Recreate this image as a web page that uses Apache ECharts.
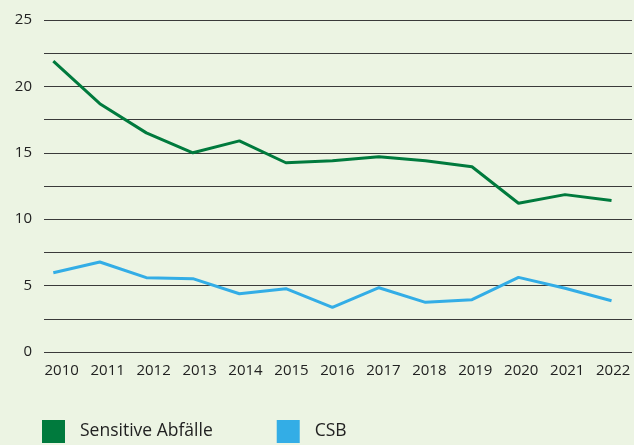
<!DOCTYPE html>
<html>
<head>
<meta charset="utf-8">
<script src="https://cdn.jsdelivr.net/npm/echarts@6/dist/echarts.min.js"></script>
<style>
html,body{margin:0;padding:0;background:#ecf4e3;}
#c{width:634px;height:445px;}
</style>
</head>
<body>
<div id="c"></div>
<script>
const years = [2010,2011,2012,2013,2014,2015,2016,2017,2018,2019,2020,2021,2022];
const sensitiveAbfaelle = [21.9,18.7,16.5,15.0,15.9,14.25,14.4,14.7,14.4,13.95,11.2,11.85,11.4];
const csb = [5.97,6.78,5.6,5.52,4.39,4.77,3.36,4.84,3.74,3.94,5.62,4.8,3.86];
const yTicks = [0,5,10,15,20,25];

const font = '"Open Sans", sans-serif';
const pair = (vals) => years.map((y,i) => [y, vals[i]]);

const chart = echarts.init(document.getElementById('c'), null, {renderer:'canvas'});
chart.setOption({
  backgroundColor: '#ecf4e3',
  animation: false,
  grid: {left:44, right:2, top:20, bottom:93, outerBoundsMode:'none'},
  xAxis: [{
    type:'value', min:2009.8, max:2022.44,
    axisLine:{show:false}, axisTick:{show:false}, splitLine:{show:false},
    axisLabel:{show:false}
  },{
    type:'value', min:2009.615, max:2022.41, position:'bottom',
    axisLine:{show:false}, axisTick:{show:false}, splitLine:{show:false},
    axisLabel:{customValues: years, formatter: v => String(v), margin: 11,
      color:'#222', fontFamily: font, fontSize:15}
  }],
  yAxis: {
    type:'value', min:0, max:25, interval:2.5,
    axisLine:{show:false}, axisTick:{show:false},
    splitLine:{lineStyle:{color:'#3a3a3a', width:1}},
    axisLabel:{
      formatter: v => yTicks.includes(v) ? String(v) : '',
      color:'#222', fontFamily: font, fontSize:15, margin:12,
      padding:[0,0,8,0]
    }
  },
  legend: {
    left:37, top:415, itemWidth:23, itemHeight:23, itemGap:64, icon:'rect',
    textStyle:{color:'#222', fontFamily: font, fontSize:17.5, padding:[0,0,0,10]},
    data:['Sensitive Abfälle','CSB']
  },
  series: [
    {name:'Sensitive Abfälle', type:'line', xAxisIndex:0, data: pair(sensitiveAbfaelle),
     showSymbol:false, color:'#007a3d', lineStyle:{width:3, color:'#007a3d'}},
    {name:'CSB', type:'line', xAxisIndex:0, data: pair(csb),
     showSymbol:false, color:'#33ade6', lineStyle:{width:3, color:'#33ade6'}}
  ]
});
</script>
</body>
</html>
